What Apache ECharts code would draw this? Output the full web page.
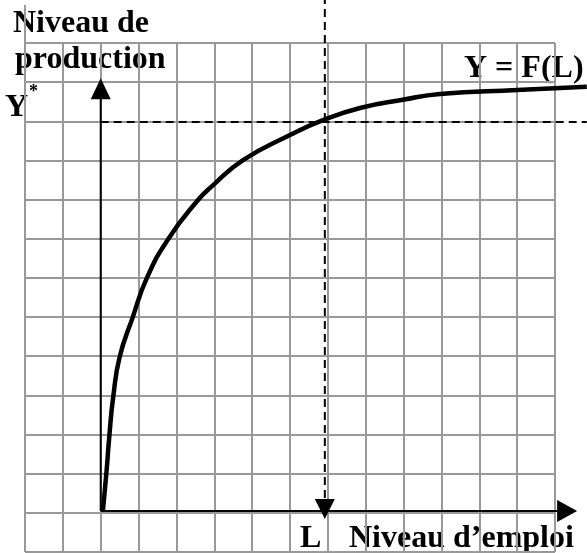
<!DOCTYPE html>
<html>
<head>
<meta charset="utf-8">
<script src="https://cdn.jsdelivr.net/npm/echarts@6/dist/echarts.min.js"></script>
<style>
  html, body { margin: 0; padding: 0; background: #fff; }
  #chart { width: 587px; height: 553px; }
</style>
</head>
<body>
<div id="chart"></div>
<script>
// grid is in "squares": 14 columns, 13 rows
const gridCols = 14
const gridRows = 13

// Y = F(L) (in squares)
const emploi = [2.06, 2.15, 2.23, 2.33, 2.5, 2.84, 3.22, 3.78, 4.57, 4.97, 5.76, 7.0, 7.87, 8.85, 9.98, 10.96, 13.0, 14.84]
const production = [1.07, 2.02, 2.99, 3.96, 4.98, 5.98, 7.0, 7.99, 8.99, 9.37, 10.01, 10.65, 11.03, 11.34, 11.55, 11.7, 11.8, 11.88]

// origin of the axes, L and Y*
const origin = [2, 1.05]
const lStar = 7.92
const yStar = 10.98
// where the axes and guides stop
const yAxisEnd = 11.83
const xAxisEnd = 14.32
const guideTop = 14.2
const guideBottom = 1.1
const guideRight = 14.84

const font = 'bold 32px "Liberation Serif", "Times New Roman", serif'

const W = 587, H = 553
const pad = { left: 25, right: 32, top: 43, bottom: 1 }
const cellW = (W - pad.left - pad.right) / gridCols
const cellH = (H - pad.top - pad.bottom) / gridRows

const chart = echarts.init(document.getElementById('chart'))

const curve = emploi.map((x, i) => [x, production[i]])

// everything drawn goes on the second (wider) grid so nothing gets cut at the right
function segment(a, b, style) {
  return {
    type: 'line', silent: true, clip: false, symbol: 'none',
    xAxisIndex: 1, yAxisIndex: 1,
    lineStyle: style,
    data: [a, b]
  }
}

const solid = { color: '#000', width: 2 }
const dashed = { color: '#000', width: 2, type: [8, 5] }
const hidden = {
  axisLine: { show: false }, axisTick: { show: false },
  axisLabel: { show: false }, splitLine: { show: false }
}

chart.setOption({
  animation: false,
  grid: [
    { left: pad.left, right: pad.right, top: pad.top, bottom: pad.bottom },
    { left: pad.left, right: 0, top: 0, bottom: pad.bottom }
  ],
  xAxis: [
    {
      type: 'value', min: 0, max: gridCols, interval: 1, gridIndex: 0,
      axisLine: { show: false }, axisTick: { show: false }, axisLabel: { show: false },
      splitLine: { show: true, lineStyle: { color: '#999', width: 2 } }
    },
    { type: 'value', min: 0, max: gridCols + pad.right / cellW, gridIndex: 1, ...hidden }
  ],
  yAxis: [
    {
      type: 'value', min: 0, max: gridRows, interval: 1, gridIndex: 0,
      axisLine: { show: false }, axisTick: { show: false }, axisLabel: { show: false },
      splitLine: { show: true, lineStyle: { color: '#999', width: 2 } }
    },
    { type: 'value', min: 0, max: gridRows + pad.top / cellH, gridIndex: 1, ...hidden }
  ],
  series: [
    // left border goes a bit above the grid
    segment([0, gridRows], [0, 13.97], { color: '#999', width: 2 }),
    // axes
    segment(origin, [origin[0], yAxisEnd], solid),
    segment(origin, [xAxisEnd, origin[1]], solid),
    // guides for L and Y*
    segment([lStar, guideTop], [lStar, guideBottom], dashed),
    segment([origin[0], yStar], [guideRight, yStar], dashed),
    {
      name: 'Y = F(L)',
      type: 'line', silent: true, clip: false, symbol: 'none',
      xAxisIndex: 1, yAxisIndex: 1,
      smooth: 0.5,
      lineStyle: { color: '#000', width: 4.5 },
      data: curve
    },
    {
      // arrow heads
      type: 'scatter', silent: true, clip: false,
      xAxisIndex: 1, yAxisIndex: 1,
      symbol: 'triangle',
      itemStyle: { color: '#000', opacity: 1 },
      data: [
        { value: [origin[0], yAxisEnd], symbolSize: [20, 21], symbolRotate: 0 },
        { value: [xAxisEnd, origin[1]], symbolSize: [22, 20], symbolRotate: -90 },
        { value: [lStar, guideBottom], symbolSize: [20, 20], symbolRotate: 180 }
      ]
    }
  ],
  graphic: [
    { type: 'text', x: 13, y: 23.5, style: { text: 'Niveau de', font: font, fill: '#000', verticalAlign: 'middle' } },
    { type: 'text', x: 15, y: 59.5, style: { text: 'production', font: font, fill: '#000', verticalAlign: 'middle' } },
    { type: 'text', x: 5, y: 108, style: { text: 'Y', font: font, fill: '#000', verticalAlign: 'middle' } },
    { type: 'text', x: 29, y: 92, style: { text: '*', font: 'bold 18px "Liberation Serif", serif', fill: '#000', verticalAlign: 'middle' } },
    { type: 'text', x: 464, y: 68.5, style: { text: 'Y = F(L)', font: font, fill: '#000', verticalAlign: 'middle' } },
    { type: 'text', x: 300, y: 538.5, style: { text: 'L', font: font, fill: '#000', verticalAlign: 'middle' } },
    { type: 'text', x: 349, y: 538.5, style: { text: 'Niveau d\u2019emploi', font: font, fill: '#000', verticalAlign: 'middle' } }
  ]
})
</script>
</body>
</html>
